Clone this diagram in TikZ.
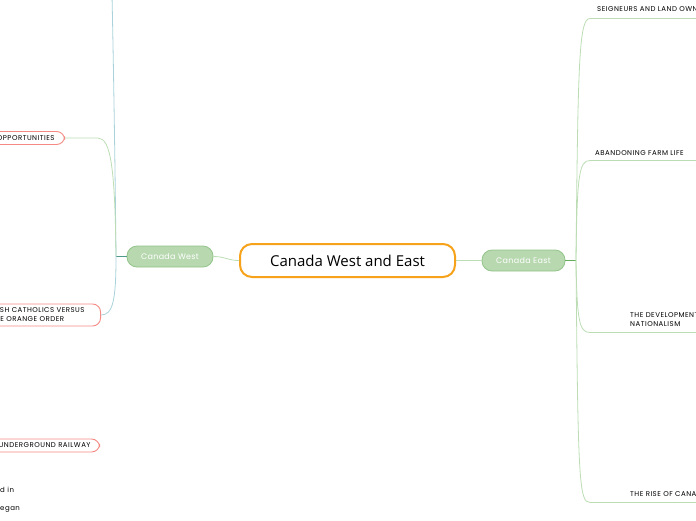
\documentclass[tikz,border=0pt]{standalone}
\usepackage{fontspec}
\setmainfont{Poppins}
\newfontfamily\opensans{Open Sans}
\newfontfamily\capsfont[LetterSpace=7]{Poppins}
\newfontfamily\pillfont[LetterSpace=4]{Poppins}
\definecolor{orangeb}{HTML}{F7A21B}
\definecolor{pillfill}{HTML}{B8D8B0}
\definecolor{pilldraw}{HTML}{93C48A}
\definecolor{salmon}{HTML}{F58A84}
\definecolor{lgreen}{HTML}{BCDDB4}
\definecolor{dgreen}{HTML}{62AE58}
\definecolor{lblue}{HTML}{A9D2DA}
\definecolor{tealstub}{HTML}{4E9B8B}
\begin{document}
\begin{tikzpicture}[x=1pt,y=-1pt,
  central/.style={draw=orangeb,line width=2pt,rounded corners=12pt,fill=white,minimum width=215pt,minimum height=33pt,font=\opensans\fontsize{15}{17}\selectfont},
  pill/.style={draw=pilldraw,fill=pillfill,line width=0.8pt,rounded corners=10pt,minimum height=21pt,text=white,font=\pillfont\fontsize{8}{9}\selectfont},
  topic/.style={draw=salmon,fill=white,line width=0.9pt,rounded corners=8pt,font=\capsfont\fontsize{7}{9}\selectfont,align=left,inner ysep=4pt,inner xsep=9pt},
  sub/.style={font=\capsfont\fontsize{7}{9}\selectfont,align=left,inner sep=0pt},
  lnk/.style={line width=0.8pt}]
\useasboundingbox (0,0) rectangle (696,520);
\clip (0,0) rectangle (696,520);
% central and main branches
\node[central] (c) at (347.5,260.5) {Canada West and East};
\node[pill,minimum width=86pt] (w) at (170,256.5) {Canada West};
\node[pill,minimum width=83pt] (e) at (523.5,260.5) {Canada East};
\coordinate (wj) at (116,256.5);
\coordinate (ej) at (576,260.5);
\coordinate (topend) at (112,-5);
\draw[lgreen,lnk] (c.west) .. controls (228,260.5) and (225,256.5) .. (w.east);
\draw[lgreen,lnk] (c.east) -- (e.west);
% left side
\draw[tealstub,line width=1pt] (w.west) -- (wj);
\draw[lblue,lnk] (wj) .. controls (115,150) and (113,40) .. (topend);
\node[topic,anchor=east,inner xsep=10pt] (op) at (65,138) {OPPORTUNITIES};
\node[topic,anchor=east,inner xsep=16pt] (ir) at (101,315) {IRISH CATHOLICS VERSUS\\THE ORANGE ORDER};
\node[topic,anchor=east] (ug) at (100,445.5) {UNDERGROUND RAILWAY};
\draw[lgreen,lnk] (op.east) -- (98,138) .. controls (111,138) and (115,170) .. (wj);
\draw[lblue,lnk] (wj) .. controls (116,300) and (113,315) .. (ir.east);
\node[sub,anchor=base west] (t1) at (0,492.5) {d in};
\node[sub,anchor=base west] (t2) at (0,510.5) {egan};
% right side
\draw[dgreen,line width=1pt] (e.east) -- (ej);
\coordinate (r1) at (590,18.5);
\coordinate (r2) at (590,160.5);
\coordinate (r3) at (590,332.5);
\coordinate (r4) at (590,502.5);
\draw[lgreen,lnk] (ej) .. controls (578,60) and (579,18.5) .. (r1) -- (700,18.5);
\draw[lgreen,lnk] (ej) .. controls (577,175) and (579,160.5) .. (r2) -- (700,160.5);
\draw[lgreen,lnk] (ej) .. controls (577,320) and (579,332.5) .. (r3) -- (700,332.5);
\draw[lgreen,lnk] (ej) .. controls (578,480) and (579,502.5) .. (r4) -- (700,502.5);
\node[sub,anchor=base west] (s1) at (597,11.5) {SEIGNEURS AND LAND OWNERSHIP};
\node[sub,anchor=base west] (s2) at (595,155.5) {ABANDONING FARM LIFE};
\node[sub,anchor=north west] (s3) at (630,312.5) {THE DEVELOPMENT OF\\NATIONALISM};
\node[sub,anchor=base west] (s4) at (630,496.5) {THE RISE OF CANADA};
\end{tikzpicture}
\end{document}
